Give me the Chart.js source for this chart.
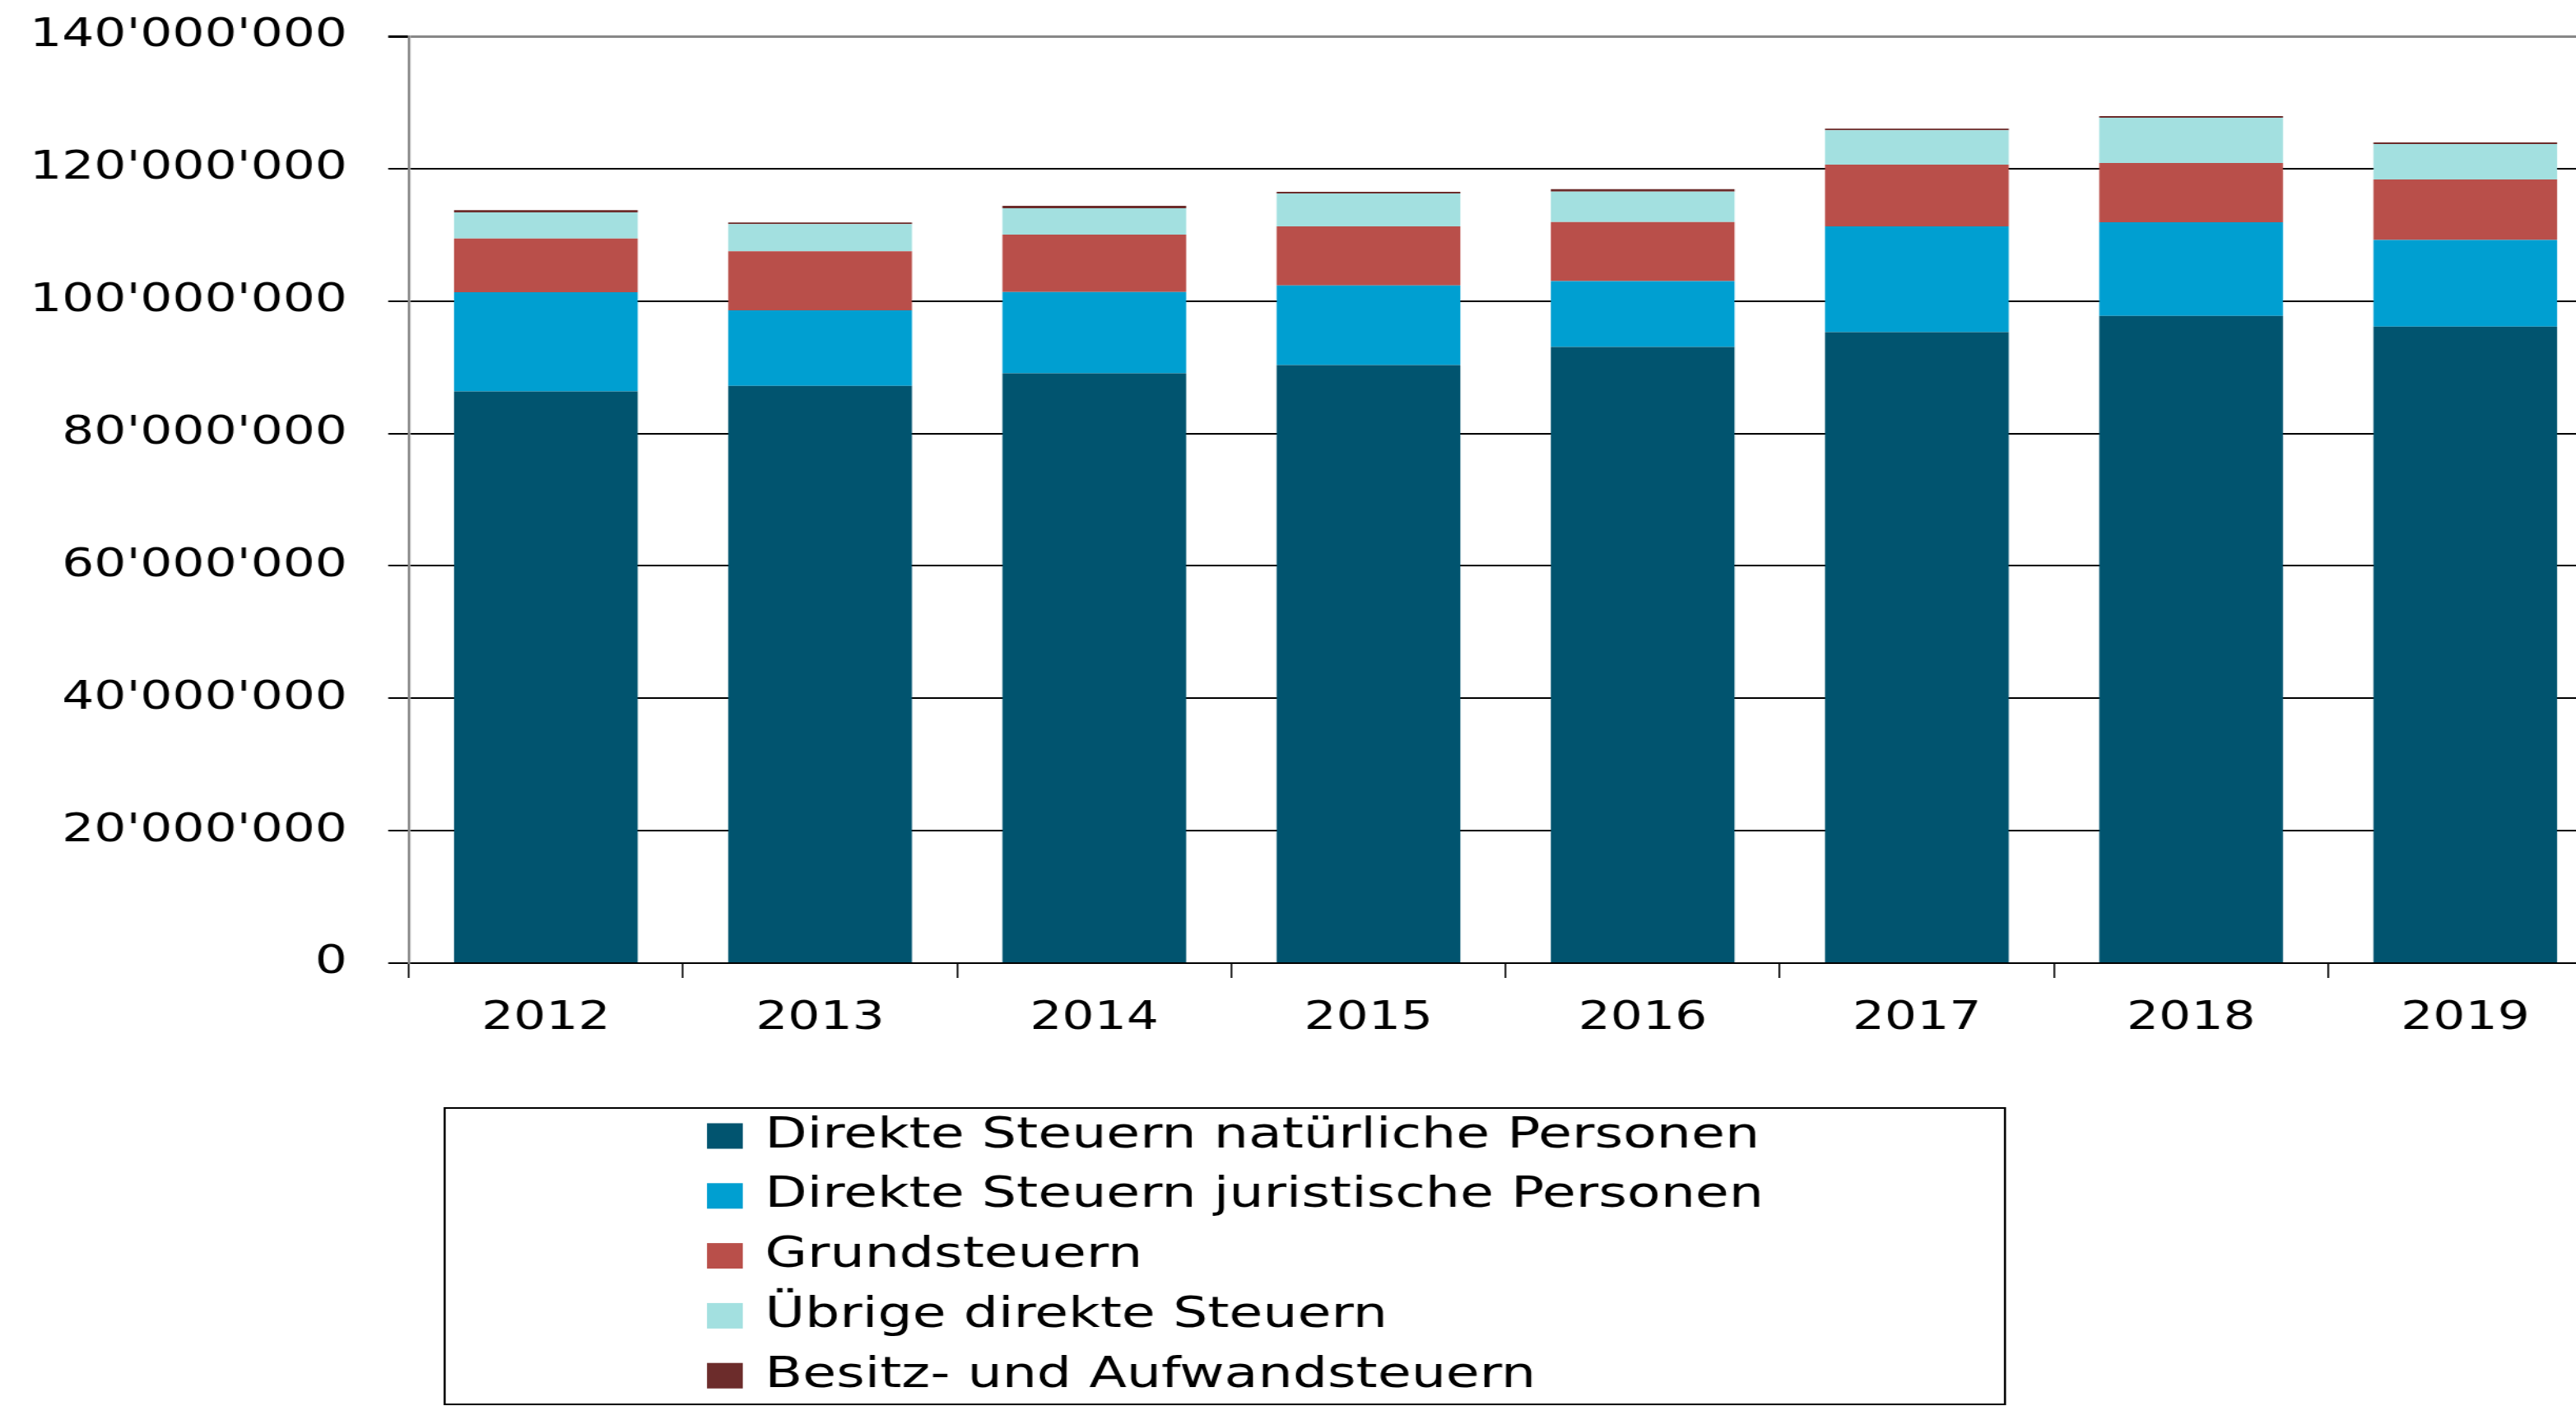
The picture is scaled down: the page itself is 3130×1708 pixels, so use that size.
<!DOCTYPE html>
<html>
<head>
<meta charset="utf-8">
<script src="https://cdn.jsdelivr.net/npm/chart.js@4.4.1/dist/chart.umd.min.js"></script>
<style>
html, body { margin: 0; padding: 0; background: #ffffff; overflow: hidden; width: 3130px; height: 1708px; }
#c { display: block; }
</style>
</head>
<body>
<canvas id="c" width="2470" height="1708" style="width:3162px;height:1708px;"></canvas>
<script>
// ---- data ----
const years = ['2012', '2013', '2014', '2015', '2016', '2017', '2018', '2019'];
const natuerlichePersonen = [86350000, 87200000, 89080000, 90320000, 93050000, 95290000, 97770000, 96150000];
const juristischePersonen = [14980000, 11400000, 12280000, 12040000, 9970000, 16000000, 14140000, 13070000];
const grundsteuern = [8100000, 8930000, 8690000, 8930000, 8900000, 9300000, 8940000, 9140000];
const uebrigeDirekte = [3970000, 4090000, 3970000, 4960000, 4600000, 5200000, 6830000, 5340000];
const besitzAufwand = [330000, 250000, 370000, 250000, 370000, 250000, 250000, 250000];
const yTickValues = [0, 20000000, 40000000, 60000000, 80000000, 100000000, 120000000, 140000000];
const seriesLabels = [
  'Direkte Steuern natürliche Personen',
  'Direkte Steuern juristische Personen',
  'Grundsteuern',
  'Übrige direkte Steuern',
  'Besitz- und Aufwandsteuern'
];

function fmt(v) {
  return String(Math.round(v)).replace(/\B(?=(\d{3})+(?!\d))/g, "'");
}

const FONT = 'DejaVu Sans';
const TOP_VALUE = yTickValues[yTickValues.length - 1];

const boxLegend = {
  id: 'boxLegend',
  afterDraw(chart) {
    const ctx = chart.ctx;
    const L = 422, T = 1346, R = 1903, B = 1706;
    ctx.save();
    ctx.fillStyle = '#ffffff';
    ctx.fillRect(L, T, R - L, B - T);
    ctx.strokeStyle = '#000000';
    ctx.lineWidth = 2;
    ctx.strokeRect(L, T, R - L, B - T);
    ctx.font = '52px "' + FONT + '"';
    ctx.textBaseline = 'middle';
    ctx.textAlign = 'left';
    chart.data.datasets.forEach((ds, i) => {
      const y = 1380 + i * 72.8;
      ctx.fillStyle = ds.backgroundColor;
      ctx.fillRect(671, y - 15.5, 34, 31);
      ctx.fillStyle = '#000000';
      ctx.fillText(ds.label, 726, y);
    });
    ctx.restore();
  }
};

new Chart(document.getElementById('c'), {
  type: 'bar',
  data: {
    labels: years,
    datasets: [
      { label: seriesLabels[0], data: natuerlichePersonen, backgroundColor: '#01546F' },
      { label: seriesLabels[1], data: juristischePersonen, backgroundColor: '#009FD1' },
      { label: seriesLabels[2], data: grundsteuern, backgroundColor: '#B94F4A' },
      { label: seriesLabels[3], data: uebrigeDirekte, backgroundColor: '#A3E0E0' },
      { label: seriesLabels[4], data: besitzAufwand, backgroundColor: '#6C2C2B' }
    ]
  },
  options: {
    responsive: false,
    animation: false,
    devicePixelRatio: 1,
    layout: { padding: { top: 44, left: 0, right: 0, bottom: 418 } },
    plugins: { legend: { display: false }, tooltip: { enabled: false } },
    datasets: { bar: { barPercentage: 0.67, categoryPercentage: 1, borderWidth: 0 } },
    scales: {
      x: {
        stacked: true,
        offset: true,
        grid: { offset: true, drawOnChartArea: false, drawTicks: true, tickLength: 18, color: '#000000', lineWidth: 1.6 },
        border: { display: true, color: '#000000', width: 2 },
        ticks: { padding: 21, color: '#000000', font: { family: FONT, size: 48 }, maxRotation: 0, autoSkip: false },
        afterFit(s) { s.height = 120; s.paddingLeft = 0; s.paddingRight = 0; }
      },
      y: {
        stacked: true,
        min: 0,
        max: TOP_VALUE,
        afterBuildTicks(s) { s.ticks = yTickValues.map(v => ({ value: v })); },
        grid: {
          color: c => (c.tick && c.tick.value === TOP_VALUE) ? '#878787' : '#000000',
          lineWidth: c => (c.tick && c.tick.value === TOP_VALUE) ? 3 : 2,
          tickColor: '#000000',
          tickLength: 19.5,
          drawTicks: true
        },
        border: { display: true, color: '#878787', width: 2.4 },
        ticks: { padding: 39, color: '#000000', font: { family: FONT, size: 48 }, callback: v => fmt(v) },
        afterFit(s) { s.width = 388; s.paddingTop = 0; s.paddingBottom = 0; }
      }
    }
  },
  plugins: [boxLegend]
});
</script>
</body>
</html>
